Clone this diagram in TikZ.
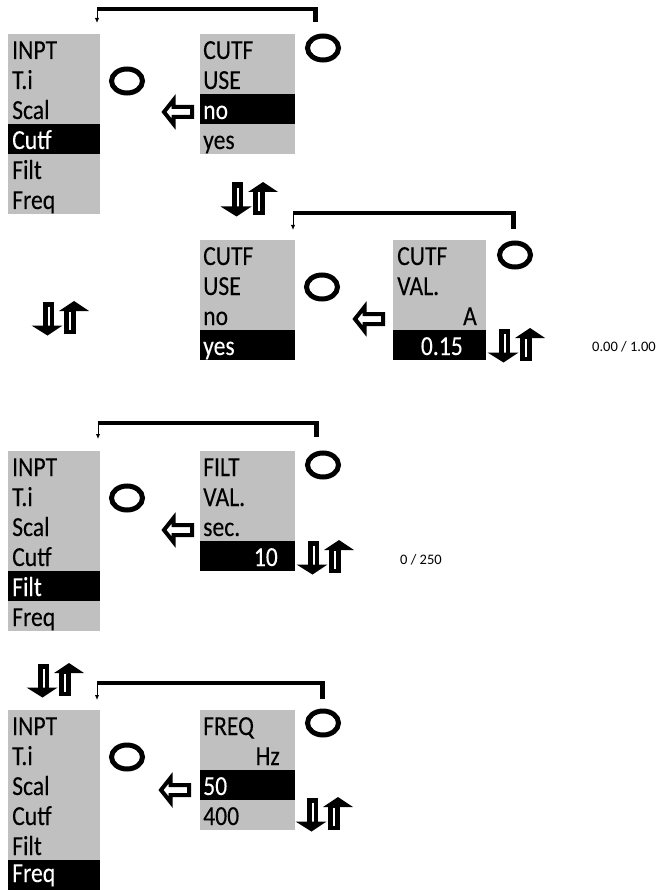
\documentclass[tikz,border=0pt]{standalone}
\usepackage{fontspec}
\setmainfont{Carlito}
\newfontfamily\rowfont{Carlito}[FakeStretch=0.86,FakeBold=0.12]
\usetikzlibrary{arrows.meta,shapes.geometric}
\definecolor{menugray}{HTML}{C0C0C0}
\tikzset{
  rowtxt/.style={anchor=base west, inner sep=0pt, font=\rowfont\fontsize{27.5}{32}\selectfont},
  rowtxtR/.style={rowtxt, anchor=base east},
  seltxt/.style={text=white},
  ring/.style={ellipse, draw, line width=5pt, minimum width=31pt, minimum height=24pt, inner sep=0pt},
  bar/.style={line width=3.5pt},
  barend/.style={line width=5pt},
  barhook/.style={line width=1pt, -{Latex[length=5pt,width=4.5pt]}},
  smalltxt/.style={font=\fontsize{14.5}{17}\selectfont, inner sep=0pt},
  updn/.pic={
    \fill (10,0.5) rectangle (21,25);
    \fill[white] (14.5,6) rectangle (16.5,25);
    \fill (-1.5,24.5) -- (29.5,24.5) -- (14.5,34.5) -- cycle;
    \fill (26,10) -- (56,10) -- (41,0) -- cycle;
    \fill (31,9.5) rectangle (43,33);
    \fill[white] (36,10.5) rectangle (38,29);
  },
  larr/.pic={
    \draw[line width=4pt, fill=white, line join=miter, miter limit=10] (3,0) -- (12.5,-12) -- (12.5,-5) -- (31,-5) -- (31,5) -- (12.5,5) -- (12.5,12) -- cycle;
  }
}
\begin{document}
\begin{tikzpicture}[x=1pt,y=-1pt]
\useasboundingbox (0,0) rectangle (656,890);

% ================= Panel 1 =================
\fill[menugray] (8,34) rectangle (100,214);
\fill[black] (8,124) rectangle (100,154);
\node[rowtxt] (p1l1) at (12,59) {INPT};
\node[rowtxt] (p1l2) at (12,89) {T.i};
\node[rowtxt] (p1l3) at (12,119) {Scal};
\node[rowtxt,seltxt] (p1l4) at (12,149) {Cutf};
\node[rowtxt] (p1l5) at (12,179) {Filt};
\node[rowtxt] (p1l6) at (12,209) {Freq};

\fill[menugray] (200,34) rectangle (295,154);
\fill[black] (200,94) rectangle (295,124);
\node[rowtxt] (p1r1) at (203,59) {CUTF};
\node[rowtxt] (p1r2) at (203,89) {USE};
\node[rowtxt,seltxt] (p1r3) at (203,119) {no};
\node[rowtxt] (p1r4) at (203,149) {yes};

\node[ring] (p1c1) at (127,81) {};
\node[ring] (p1c2) at (323,48) {};
\pic at (161,112) {larr};
\coordinate (p1bs) at (315,22);
\coordinate (p1be) at (97,23);
\draw[barend] (p1bs) -- (315,7.5);
\draw[bar] (317.5,9) -- (96.5,9);
\draw[barhook] (97,9) -- (p1be);
\pic at (222,182) {updn};

% ================= Panel 2 =================
\fill[menugray] (200,240) rectangle (295,360);
\fill[black] (200,330) rectangle (295,360);
\node[rowtxt] (p2l1) at (203,265) {CUTF};
\node[rowtxt] (p2l2) at (203,295) {USE};
\node[rowtxt] (p2l3) at (203,325) {no};
\node[rowtxt,seltxt] (p2l4) at (203,355) {yes};

\fill[menugray] (393,240) rectangle (486,360);
\fill[black] (393,330) rectangle (486,360);
\node[rowtxt] (p2r1) at (397,265) {CUTF};
\node[rowtxt] (p2r2) at (397,295) {VAL.};
\node[rowtxtR] (p2r3) at (477,325) {A};
\node[rowtxtR,seltxt] (p2r4) at (463,355) {0.15};

\node[ring] (p2c1) at (322,287) {};
\node[ring] (p2c2) at (515,255) {};
\pic at (352,319) {larr};
\coordinate (p2bs) at (513,229);
\coordinate (p2be) at (293,230);
\draw[barend] (p2bs) -- (513,211.5);
\draw[bar] (515.5,213) -- (292.5,213);
\draw[barhook] (293,213) -- (p2be);
\pic at (33,301) {updn};
\pic at (489,328) {updn};
\node[smalltxt] (p2rng) at (624,347) {0.00 / 1.00};

% ================= Panel 3 =================
\fill[menugray] (8,451) rectangle (100,631);
\fill[black] (8,571) rectangle (100,601);
\node[rowtxt] (p3l1) at (12,476) {INPT};
\node[rowtxt] (p3l2) at (12,506) {T.i};
\node[rowtxt] (p3l3) at (12,536) {Scal};
\node[rowtxt] (p3l4) at (12,566) {Cutf};
\node[rowtxt,seltxt] (p3l5) at (12,596) {Filt};
\node[rowtxt] (p3l6) at (12,626) {Freq};

\fill[menugray] (200,451) rectangle (295,571);
\fill[black] (200,541) rectangle (295,571);
\node[rowtxt] (p3r1) at (203,476) {FILT};
\node[rowtxt] (p3r2) at (203,506) {VAL.};
\node[rowtxt] (p3r3) at (203,536) {sec.};
\node[rowtxtR,seltxt] (p3r4) at (278,566) {10};

\node[ring] (p3c1) at (127,498) {};
\node[ring] (p3c2) at (323,465) {};
\pic at (161,530) {larr};
\coordinate (p3bs) at (316,437);
\coordinate (p3be) at (98,439);
\draw[barend] (p3bs) -- (316,421.5);
\draw[bar] (318.5,423) -- (97.5,423);
\draw[barhook] (98,423) -- (p3be);
\pic at (298,540) {updn};
\node[smalltxt] (p3rng) at (421,560) {0 / 250};

% ================= Panel 4 =================
\pic at (28,663) {updn};
\fill[menugray] (8,710) rectangle (100,890);
\fill[black] (8,860) rectangle (100,890);
\node[rowtxt] (p4l1) at (12,735) {INPT};
\node[rowtxt] (p4l2) at (12,765) {T.i};
\node[rowtxt] (p4l3) at (12,795) {Scal};
\node[rowtxt] (p4l4) at (12,825) {Cutf};
\node[rowtxt] (p4l5) at (12,855) {Filt};
\node[rowtxt,seltxt] (p4l6) at (12,882) {Freq};

\fill[menugray] (200,710) rectangle (295,830);
\fill[black] (200,770) rectangle (295,800);
\node[rowtxt] (p4r1) at (203,735) {FREQ};
\node[rowtxtR] (p4r2) at (280,765) {Hz};
\node[rowtxt,seltxt] (p4r3) at (203,795) {50};
\node[rowtxt] (p4r4) at (203,825) {400};

\node[ring] (p4c1) at (127,757) {};
\node[ring] (p4c2) at (323,723) {};
\pic at (158,790) {larr};
\coordinate (p4bs) at (322,699);
\coordinate (p4be) at (97,700);
\draw[barend] (p4bs) -- (322,681.5);
\draw[bar] (324.5,683) -- (96.5,683);
\draw[barhook] (97,683) -- (p4be);
\pic at (297,797) {updn};
\end{tikzpicture}
\end{document}
